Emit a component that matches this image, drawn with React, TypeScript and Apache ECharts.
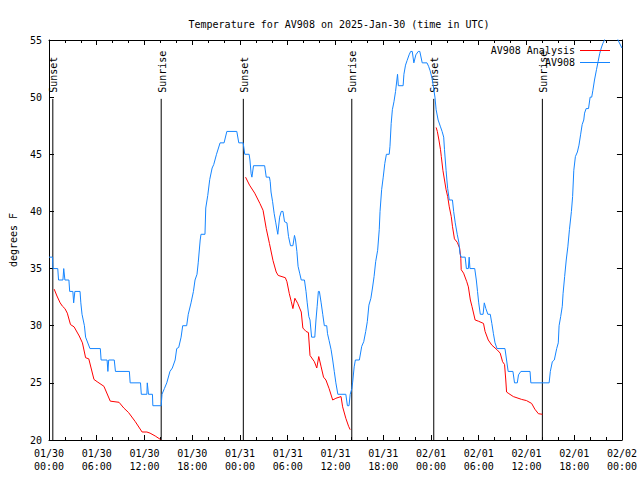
import React, { useEffect, useRef } from "react";
import * as echarts from "echarts";

// Hours after 2025-01-30 00:00 UTC
const titleText = "Temperature for AV908 on 2025-Jan-30 (time in UTC)";
const yAxisName = "degrees F";
const seriesNames = ["AV908 Analysis", "AV908"];

const xTickDates = ["01/30", "01/30", "01/30", "01/30", "01/31", "01/31", "01/31", "01/31", "02/01", "02/01", "02/01", "02/01", "02/02"];
const xTickTimes = ["00:00", "06:00", "12:00", "18:00", "00:00", "06:00", "12:00", "18:00", "00:00", "06:00", "12:00", "18:00", "00:00"];

const sunEventHours = [0.48, 14.1, 24.42, 38.05, 48.35, 62.0];
const sunEventLabels = ["Sunset", "Sunrise", "Sunset", "Sunrise", "Sunset", "Sunrise"];

const observed: [number, number][] = [
  [0, 36], [0.45, 36], [0.5, 35], [1.1, 35], [1.2, 34], [1.75, 34], [1.85, 35], [2.0, 34], [2.5, 34], [2.6, 33],
  [3.0, 33], [3.1, 32], [3.25, 33], [3.9, 33], [4.0, 32], [4.15, 31], [4.45, 30], [4.6, 29], [5.15, 28], [6.45, 28],
  [6.55, 27], [7.3, 27], [7.4, 26], [7.5, 27], [8.2, 27], [8.35, 26], [10.1, 26], [10.2, 25], [11.5, 25], [11.6, 24],
  [12.3, 24], [12.35, 25], [12.5, 24], [13.0, 24], [13.05, 23], [14.1, 23],
  [14.2, 24], [14.5, 24.5], [14.8, 25], [15.2, 26], [15.5, 26.3], [15.85, 27], [16.05, 28], [16.3, 28.1], [16.6, 29],
  [16.8, 30], [17.3, 30], [17.5, 31], [17.85, 32], [18.15, 33], [18.35, 34], [18.6, 34.5], [18.75, 35.5], [19.0, 37.5],
  [19.1, 38], [19.6, 38], [19.7, 40.3], [19.95, 41.4], [20.2, 42.8], [20.5, 43.8], [20.7, 44.1], [21.05, 45], [21.5, 46],
  [22.0, 46], [22.35, 47], [23.6, 47], [23.85, 46], [24.4, 46], [24.6, 45], [25.15, 45], [25.25, 44.5], [25.4, 43.3],
  [25.5, 43], [25.7, 44], [27.1, 44], [27.3, 43], [27.7, 43], [27.8, 42.6], [27.9, 41.7], [28.1, 40.85], [28.3, 39.8],
  [28.5, 39], [28.75, 38], [28.98, 39.5], [29.19, 40], [29.4, 40], [29.6, 39.1], [29.9, 39], [30.1, 37.8], [30.35, 37],
  [30.65, 37], [30.85, 37.9], [30.98, 37.5], [31.15, 36.5], [31.3, 35.2], [31.5, 34.6], [31.7, 34], [32.1, 34],
  [32.3, 33], [32.45, 32], [32.65, 30.8], [32.8, 30.5], [33.0, 29], [33.4, 29], [33.55, 30.5], [33.7, 31.7], [33.85, 33],
  [33.98, 33], [34.2, 32], [34.4, 31], [34.6, 30], [34.9, 30], [35.0, 29.3], [35.2, 28.7], [35.45, 27.9], [35.65, 27],
  [35.85, 26], [36.05, 25], [36.3, 24], [37.3, 24], [37.5, 23], [37.7, 23], [37.85, 24], [38.06, 24.5], [38.15, 25],
  [38.35, 26.4], [38.5, 27], [39.0, 27], [39.3, 28.2], [39.55, 28.6], [39.8, 29.5], [40.0, 30.35], [40.2, 31.8],
  [40.45, 32.4], [40.65, 33.3], [40.85, 34.3], [41.05, 35.6], [41.3, 36.6], [41.5, 38.4], [41.6, 40], [41.8, 41.9],
  [42.0, 43], [42.2, 44.2], [42.4, 45], [42.75, 45], [42.85, 45.7], [43.0, 47.7], [43.15, 48.9], [43.35, 49.6],
  [43.55, 50.5], [43.8, 52], [43.9, 51], [44.5, 51], [44.6, 52], [44.8, 52.8], [45.0, 53.2], [45.25, 53.7], [45.45, 54],
  [45.65, 54], [45.85, 53], [46.1, 53.7], [46.4, 54], [46.6, 54], [46.9, 53], [47.5, 53], [47.7, 52.7], [47.9, 52.3],
  [48.15, 51.6], [48.35, 50.7], [48.5, 50], [48.65, 48.9], [48.9, 48], [49.2, 47.4], [49.4, 47], [49.6, 46.5],
  [49.7, 45.4], [49.9, 43.6], [50.0, 42.75], [50.1, 42], [50.3, 41], [50.7, 41], [50.85, 40], [51.05, 39], [51.3, 38],
  [51.5, 37.3], [51.65, 36.3], [51.8, 36], [52.3, 36], [52.45, 35], [52.7, 35], [52.8, 36], [52.9, 35], [53.5, 35],
  [53.7, 34], [53.85, 33], [54.0, 32], [54.2, 31], [54.55, 31], [54.7, 32], [54.9, 31.5], [55.15, 31], [55.45, 31],
  [55.65, 30.2], [55.85, 29.3], [56.05, 28.5], [56.3, 28], [57.3, 28], [57.5, 27], [57.7, 26], [58.3, 26], [58.5, 25],
  [58.85, 25], [59.0, 25.7], [59.3, 26], [60.45, 26], [60.55, 25], [62.85, 25], [63.0, 26], [63.25, 26.85], [63.5, 27],
  [63.8, 28], [64.0, 28.5], [64.1, 30], [64.3, 30.8], [64.5, 31.7], [64.6, 32.8], [64.8, 34.3], [65.0, 35.75],
  [65.2, 36.9], [65.4, 38.4], [65.65, 40], [65.8, 41.3], [65.95, 43.6], [66.15, 44.8], [66.4, 45.2], [66.6, 45.8],
  [66.8, 46.7], [67.0, 47.6], [67.2, 48], [67.3, 48.6], [67.5, 49], [67.8, 49], [68.0, 50], [68.2, 50], [68.35, 50.6],
  [68.55, 51.5], [68.8, 52.4], [69.0, 53.1], [69.2, 53.8], [69.4, 54.3], [69.6, 54.7], [69.8, 55], [70.0, 55.6],
  [70.5, 56], [71.2, 56], [71.5, 55], [72.0, 54.3],
];

const analysisNight1: [number, number][] = [
  [0.65, 33.2], [1.0, 32.6], [1.4, 32.0], [1.7, 31.7], [2.0, 31.5], [2.3, 31.1], [2.7, 30.1], [3.15, 29.9], [3.8, 29.1],
  [4.2, 28.5], [4.6, 27.2], [5.0, 27.1], [5.65, 25.3], [6.05, 25.1], [6.9, 24.7], [7.7, 23.4], [8.8, 23.3], [9.4, 22.8],
  [10.0, 22.4], [10.85, 21.6], [11.7, 20.7], [12.3, 20.7], [12.7, 20.6], [13.35, 20.35], [14.0, 20.05],
];
const analysisNight2: [number, number][] = [
  [24.7, 43], [25.2, 42.3], [25.85, 41.6], [26.5, 40.7], [26.9, 40.1], [27.3, 38.5], [27.7, 37.2], [28.15, 35.7],
  [28.55, 34.7], [28.8, 34.4], [29.7, 34.2], [29.9, 33.85], [30.2, 32.8], [30.45, 32.1], [30.65, 31.5], [30.9, 32.4],
  [31.25, 31.96], [31.7, 31.2], [31.9, 29.8], [32.3, 29.5], [32.6, 29.4], [32.8, 27.4], [33.35, 26.85], [33.65, 26.3],
  [33.9, 27.3], [34.2, 26.4], [34.5, 25.5], [34.8, 25.25], [35.2, 24.5], [35.65, 23.5], [36.05, 23.65], [36.7, 23.8],
  [36.9, 22.9], [37.3, 21.9], [37.65, 21.2], [37.85, 20.9],
];
const analysisNight3: [number, number][] = [
  [48.65, 47.35], [48.8, 47.0], [49.0, 46.25], [49.2, 45.4], [49.3, 44.8], [49.5, 43.6], [49.7, 42.75], [49.9, 41.9],
  [50.1, 41.3], [50.3, 40.4], [50.55, 39.55], [50.7, 38.7], [50.95, 37.6], [51.3, 37.3], [51.6, 36.8], [51.75, 35.9],
  [51.8, 34.9], [52.1, 34.6], [52.5, 33.85], [52.7, 33.4], [52.95, 32.25], [53.15, 31.7], [53.55, 30.5], [53.95, 30.4],
  [54.6, 30.2], [54.8, 29.5], [55.2, 28.75], [55.65, 28.3], [56.3, 27.9], [56.7, 27.6], [57.0, 26.85], [57.25, 26.6],
  [57.4, 25.25], [57.5, 24.2], [57.7, 24.1], [58.35, 23.8], [59.4, 23.55], [60.0, 23.45], [60.65, 23.2], [61.05, 22.7],
  [61.5, 22.3], [62.0, 22.25],
];

const FONT = "DejaVu Sans Mono";
const BLUE = "#1585ff";
const RED = "#ff0000";

export default function App() {
  const ref = useRef<HTMLDivElement>(null);
  useEffect(() => {
    if (!ref.current) return;
    const chart = echarts.init(ref.current, undefined, { renderer: "svg" });
    const analysis: any[] = [...analysisNight1, null, ...analysisNight2, null, ...analysisNight3];
    const textStyle = { fontFamily: FONT, fontSize: 10, color: "#000" };
    const axisCommon = {
      axisLine: { show: true, onZero: false, lineStyle: { color: "#000", width: 1 } },
      splitLine: { show: false },
    };
    const xCommon = {
      type: "value",
      min: 0,
      max: 72,
      interval: 6,
      ...axisCommon,
      axisTick: { show: true, inside: true, length: 5, lineStyle: { color: "#000" } },
      minorTick: { show: true, splitNumber: 3, length: 3, lineStyle: { color: "#000" } },
    };
    const yCommon = {
      type: "value",
      min: 20,
      max: 55,
      interval: 5,
      ...axisCommon,
      axisTick: { show: true, inside: true, length: 5, lineStyle: { color: "#000" } },
    };
    const legendCommon = {
      right: 30,
      align: "right",
      orient: "vertical",
      icon: "rect",
      itemWidth: 30,
      itemHeight: 1,
      padding: 0,
      selectedMode: false,
      textStyle,
    };
    chart.setOption({
      animation: false,
      backgroundColor: "#fff",
      title: {
        text: titleText,
        left: 334,
        top: 14,
        textAlign: "center",
        textStyle: { ...textStyle, fontWeight: "normal" },
      },
      grid: { left: 46, right: 18, top: 40, bottom: 40 },
      legend: [
        { ...legendCommon, data: [seriesNames[0]], top: 45.5 },
        { ...legendCommon, data: [seriesNames[1]], top: 57.5 },
      ],
      xAxis: [
        {
          ...xCommon,
          position: "bottom",
          axisLabel: {
            ...textStyle,
            margin: 7,
            lineHeight: 13,
            formatter: (v: number) => {
              const i = Math.round(v / 6);
              return `${xTickDates[i]}\n${xTickTimes[i]}`;
            },
          },
        },
        { ...xCommon, position: "top", axisLabel: { show: false } },
      ],
      yAxis: [
        {
          ...yCommon,
          position: "left",
          name: yAxisName,
          nameLocation: "middle",
          nameRotate: 90,
          nameGap: 31,
          nameTextStyle: textStyle,
          axisLabel: { ...textStyle, margin: 7 },
        },
        { ...yCommon, position: "right", axisLabel: { show: false } },
      ],
      series: [
        {
          type: "custom",
          name: "sun",
          data: sunEventHours.map((h) => [h]),
          renderItem: (params: any, api: any) => {
            const h = api.value(0);
            const bottom = api.coord([h, 20]);
            const top = api.coord([h, 49.85]);
            return {
              type: "group",
              children: [
                {
                  type: "line",
                  shape: { x1: bottom[0], y1: bottom[1], x2: top[0], y2: top[1] },
                  style: { stroke: "#000", lineWidth: 1 },
                },
                {
                  type: "text",
                  x: top[0] + 1,
                  y: top[1] - 6,
                  rotation: Math.PI / 2,
                  style: {
                    text: sunEventLabels[params.dataIndex],
                    fill: "#000",
                    font: `10px "${FONT}"`,
                    align: "left",
                    verticalAlign: "middle",
                  },
                },
              ],
            };
          },
          clip: false,
          silent: true,
          z: 1,
        },
        {
          type: "line",
          name: seriesNames[0],
          data: analysis,
          symbol: "none",
          connectNulls: false,
          color: RED,
          lineStyle: { color: RED, width: 1 },
          z: 2,
        },
        {
          type: "line",
          name: seriesNames[1],
          data: observed,
          symbol: "none",
          color: BLUE,
          lineStyle: { color: BLUE, width: 1 },
          z: 3,
        },
      ],
    });
    return () => chart.dispose();
  }, []);
  return <div ref={ref} style={{ position: "fixed", left: 0, top: 0, width: 640, height: 480 }} />;
}
